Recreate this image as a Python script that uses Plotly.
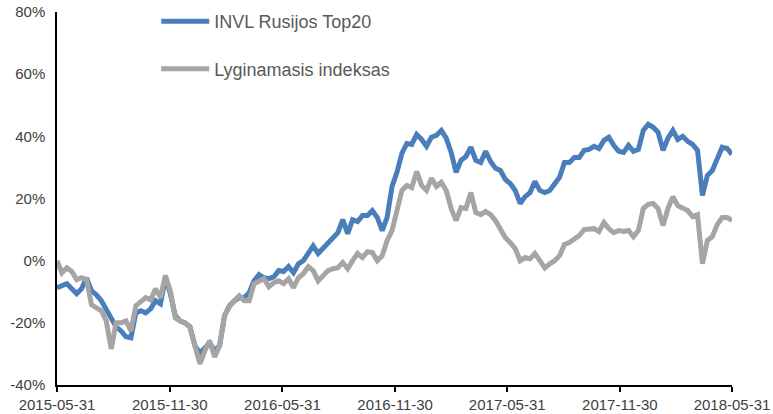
import pandas as pd
import plotly.graph_objects as go

# Time axis: one observation every 8 days from 2015-05-31 to 2018-05-31
dates = pd.date_range("2015-05-31", "2018-05-31", freq="8D")

invl_top20 = [
    -8.7, -8.1, -7.4, -9.0, -10.6, -9.0, -5.5, -9.7, -11.0, -12.9,
    -15.5, -18.7, -21.3, -22.6, -24.5, -24.8, -16.8, -16.1, -16.8, -15.5,
    -12.9, -13.9, -5.5, -10.6, -17.7, -19.4, -20.0, -21.3, -27.4, -29.7,
    -28.0, -26.5, -29.0, -27.4, -17.7, -14.5, -12.9, -11.9, -11.9, -10.3,
    -6.5, -4.5, -5.5, -5.8, -5.2, -3.2, -3.5, -1.9, -3.9, -1.0,
    0.0, 2.3, 4.8, 2.3, 3.9, 5.8, 7.1, 9.0, 13.2, 8.7,
    13.2, 12.6, 14.5, 14.5, 16.1, 13.9, 9.7, 13.9, 23.9, 28.4,
    34.5, 37.7, 37.4, 40.6, 39.0, 36.8, 39.7, 40.3, 41.9, 39.4,
    34.8, 28.4, 32.3, 33.5, 36.5, 32.3, 31.6, 35.2, 31.9, 29.7,
    29.0, 26.1, 24.8, 22.6, 18.4, 20.6, 21.9, 25.5, 22.6, 21.9,
    22.6, 24.5, 26.8, 31.6, 31.6, 33.2, 33.2, 35.5, 35.8, 36.8,
    36.1, 38.7, 39.7, 37.1, 35.2, 34.8, 37.1, 35.2, 35.8, 41.9,
    43.9, 42.9, 41.3, 35.5, 39.4, 41.9, 39.0, 40.0, 38.4, 37.4,
    35.5, 21.0, 27.4, 29.0, 32.3, 36.5, 36.1, 34.2,
]

benchmark = [
    0.0, -3.9, -2.3, -3.5, -6.1, -5.5, -6.1, -14.2, -15.2, -16.1,
    -19.4, -28.4, -20.0, -20.0, -19.4, -22.6, -14.5, -13.2, -11.9, -12.6,
    -9.0, -11.9, -4.8, -9.7, -18.4, -19.4, -20.0, -21.6, -27.4, -33.2,
    -29.0, -25.8, -31.0, -27.4, -17.7, -14.8, -12.9, -11.3, -12.9, -12.9,
    -7.4, -6.5, -5.8, -8.4, -7.1, -6.5, -7.4, -5.8, -8.7, -5.5,
    -4.2, -1.9, -3.2, -6.5, -4.8, -3.2, -2.6, -2.3, -0.6, -2.6,
    0.0, 2.3, 1.0, 2.9, 2.6, 0.0, 1.6, 6.5, 9.7, 15.5,
    22.6, 24.2, 23.5, 28.7, 24.2, 22.6, 26.5, 23.9, 25.2, 22.6,
    16.8, 12.9, 17.1, 16.8, 21.9, 15.5, 14.8, 15.8, 14.8, 12.9,
    10.3, 7.4, 5.8, 3.9, 0.0, 1.0, 0.6, 2.3, 0.0, -2.3,
    -1.0, 0.0, 1.6, 5.2, 5.8, 7.1, 8.1, 10.0, 10.3, 10.3,
    9.4, 12.3, 10.3, 9.0, 9.7, 9.4, 9.7, 7.7, 9.7, 16.8,
    18.1, 18.4, 16.8, 11.3, 16.8, 20.6, 17.7, 16.8, 16.1, 14.2,
    14.8, -1.0, 6.5, 7.7, 11.6, 13.9, 13.9, 12.9,
]

series_names = ["INVL Rusijos Top20", "Lyginamasis indeksas"]
series_colors = ["#4a7ebb", "#a5a5a5"]

x_tick_dates = ["2015-05-31", "2015-11-30", "2016-05-31", "2016-11-30",
                "2017-05-31", "2017-11-30", "2018-05-31"]
y_ticks = [-40, -20, 0, 20, 40, 60, 80]

fig = go.Figure()
for name, vals, col, grp in zip(series_names, [invl_top20, benchmark], series_colors, ["a", "b"]):
    fig.add_trace(go.Scatter(
        x=dates, y=vals, mode="lines", name=name, legendgroup=grp,
        line=dict(color=col, width=5, shape="linear"),
    ))

font_family = "Liberation Sans, Arial, sans-serif"
fig.update_layout(
    width=773, height=414,
    margin=dict(l=57, r=41, t=12, b=29, autoexpand=False),
    paper_bgcolor="white", plot_bgcolor="white",
    font=dict(family=font_family, size=15, color="#404040"),
    showlegend=True,
    legend=dict(
        xref="paper", yref="paper",
        x=0.147, y=1.024, xanchor="left", yanchor="top",
        font=dict(size=18, color="#595959"),
        bgcolor="rgba(0,0,0,0)", tracegroupgap=21,
        itemwidth=48,
    ),
    xaxis=dict(
        type="date", automargin=False,
        range=["2015-05-31", "2018-05-31"],
        tickvals=x_tick_dates, ticktext=x_tick_dates,
        showgrid=False, zeroline=False,
        showline=True, linecolor="#000000", linewidth=1.5,
        ticks="outside", ticklen=5, tickcolor="#000000", tickwidth=1.5,
        tickfont=dict(size=15, color="#404040"),
        ticklabeloverflow="allow",
    ),
    yaxis=dict(
        range=[-40, 80], automargin=False,
        tickvals=y_ticks, ticktext=[f"{v}%" for v in y_ticks],
        showgrid=False, zeroline=False,
        showline=True, linecolor="#000000", linewidth=1.5,
        ticks="", ticklabelstandoff=7,
        tickfont=dict(size=15, color="#404040"),
        ticklabeloverflow="allow",
    ),
)

# remove the default page margin so the 773x414 figure fills the window exactly
fig.write_html(
    "out.html",
    config={"displayModeBar": False},
    post_script="document.body.style.margin='0';",
)
